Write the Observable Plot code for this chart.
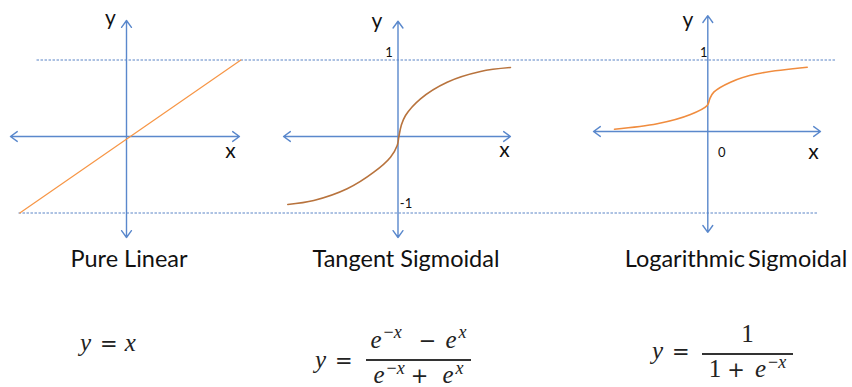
<!DOCTYPE html>
<html><head><meta charset="utf-8">
<script src="https://cdn.jsdelivr.net/npm/d3@7"></script>
<script src="https://cdn.jsdelivr.net/npm/@observablehq/plot@0.6"></script>
<style>
body{margin:0;background:#fff;}
#fig{position:relative;width:852px;height:387px;overflow:hidden;background:#fff;}
#fig svg{position:absolute;top:0;}
.title{position:absolute;top:247px;font-family:Lato,"Noto Sans",sans-serif;font-size:23.5px;line-height:23.5px;color:#111;transform:translateX(-50%);white-space:nowrap;}
.m{position:absolute;font-family:"Liberation Serif",serif;font-size:25px;line-height:25px;color:#222;white-space:nowrap;}
.m i{font-style:italic;}
.op{font-family:"DejaVu Sans",sans-serif;font-size:21px;}
.sup{font-size:0.72em;position:relative;top:-0.55em;margin-left:2px;}
.den .sup{top:-0.45em;}
.frac{text-align:center;}
.num{display:block;height:25px;}
.bar{display:block;height:1.5px;background:#333;margin:7px 0 3px;}
.den{display:block;height:22px;line-height:22px;}
</style></head><body><div id="fig"></div>
<script>
// ---- data ----
const titles = ["Pure Linear", "Tangent Sigmoidal", "Logarithmic Sigmoidal"];
// Pure linear: y = x
const linearX = [-0.97, 1.04];
const linearY = [-1, 1];
// Tangent sigmoidal
const tanhX = [-0.984, -0.752, -0.454, -0.216, -0.067, -0.007, 0.007, 0.029, 0.067, 0.201, 0.439, 0.737, 1.004];
const tanhY = [-0.889, -0.837, -0.684, -0.467, -0.271, -0.118, -0.009, 0.144, 0.275, 0.493, 0.710, 0.850, 0.902];
// Logarithmic sigmoidal
const logX = [-0.933, -0.506, -0.173, -0.006, 0.02, 0.06, 0.227, 0.494, 0.994];
const logY = [0.032, 0.108, 0.238, 0.364, 0.457, 0.55, 0.69, 0.807, 0.899];
// axis extents [xMin, xMax, yMin, yMax]
const axisLinear = [-1.055, 1.027, -1.32, 1.516];
const axisTanh = [-1.022, 1.004, -1.32, 1.507];
const axisLog = [-1.143, 1.127, -1.41, 1.62];
// guide lines (levels ±1, extents in the linear panel's x units)
const guideLevels = [1, -1];
const guideStart = [-0.818, -0.982];
const guideEnd = [6.445, 6.29];
const tanhTickLabels = ["1", "-1"];
const logTickLabels = ["1", "0"];

// ---- styles ----
const AXIS = "#5a88cc";
const FONT = "Lato, 'Noto Sans', sans-serif";
const fig = document.getElementById("fig");
const H = 240;

function axisRows(a) {
  return [
    {x1: 0, y1: 0, x2: a[1], y2: 0},
    {x1: 0, y1: 0, x2: a[0], y2: 0},
    {x1: 0, y1: 0, x2: 0, y2: a[3]},
    {x1: 0, y1: 0, x2: 0, y2: a[2]}
  ];
}
function axisMarks(a) {
  return Plot.arrow(axisRows(a), {x1: "x1", y1: "y1", x2: "x2", y2: "y2", stroke: AXIS, strokeWidth: 1.4, headLength: 9, headAngle: 72, bend: false});
}
function label(x, y, t, dx, dy, size) {
  return Plot.text([{x, y, t}], {x: "x", y: "y", text: "t", dx, dy, fontSize: size, fontFamily: FONT, fill: "#111", textAnchor: "middle", lineAnchor: "middle"});
}
function place(svg, left) {
  svg.style.left = left + "px";
  fig.appendChild(svg);
}
const common = {height: H, axis: null, style: "background: transparent; overflow: visible;"};

// background guides
place(Plot.plot({
  ...common, width: 852,
  x: {domain: [-1, 1], range: [16, 236]},
  y: {domain: [-1, 1], range: [212.5, 59.5]},
  marks: [
    Plot.link(guideLevels.map((v, i) => ({y: v, a: guideStart[i], b: guideEnd[i]})),
      {x1: "a", x2: "b", y1: "y", y2: "y", stroke: "#5a84c6", strokeWidth: 1, strokeDasharray: "2.5,1.5"})
  ]
}), 0);

// panel 1: pure linear
place(Plot.plot({
  ...common, width: 284,
  x: {domain: [-1, 1], range: [16, 236]},
  y: {domain: [-1, 1], range: [212.5, 59.5]},
  marks: [
    axisMarks(axisLinear),
    Plot.line(linearX.map((x, i) => ({x, y: linearY[i]})), {x: "x", y: "y", stroke: "#f79646", strokeWidth: 1.2}),
    label(0, axisLinear[3], "y", -16, -2, 21),
    label(axisLinear[1], 0, "x", -9, 15, 21)
  ]
}), 0);

// panel 2: tangent sigmoidal
place(Plot.plot({
  ...common, width: 284,
  x: {domain: [-1, 1], range: [1.5, 225.5]},
  y: {domain: [-1, 1], range: [212.5, 59.5]},
  marks: [
    axisMarks(axisTanh),
    Plot.line(tanhX.map((x, i) => ({x, y: tanhY[i]})), {x: "x", y: "y", stroke: "#b8733d", strokeWidth: 1.6, curve: "catmull-rom"}),
    label(0, axisTanh[3], "y", -21, 0, 21),
    label(axisTanh[1], 0, "x", -6, 14, 21),
    label(0, 1, tanhTickLabels[0], -9, -7, 13),
    label(0, -1, tanhTickLabels[1], 8, -9, 13)
  ]
}), 284);

// panel 3: logarithmic sigmoidal
place(Plot.plot({
  ...common, width: 284,
  x: {domain: [-1, 1], range: [39.3, 239.3]},
  y: {domain: [0, 1], range: [131, 59.5]},
  marks: [
    axisMarks(axisLog),
    Plot.line(logX.map((x, i) => ({x, y: logY[i]})), {x: "x", y: "y", stroke: "#f08c3e", strokeWidth: 1.6, curve: "catmull-rom"}),
    label(0, axisLog[3], "y", -20, 5, 21),
    label(axisLog[1], 0, "x", -7, 21, 21),
    label(0, 1, logTickLabels[0], -4, -7, 13),
    label(0, 0, logTickLabels[1], 14, 21, 13)
  ]
}), 568);

// titles
const titleCenters = [129, 406, 736];
titles.forEach((t, i) => {
  const d = document.createElement("div");
  d.className = "title";
  d.textContent = t;
  d.style.left = titleCenters[i] + "px";
  if (i === 2) d.style.wordSpacing = "-3px";
  fig.appendChild(d);
});

// formulas
function piece(html, cls, left, top, width) {
  const d = document.createElement("div");
  d.className = "m " + cls;
  d.innerHTML = html;
  d.style.left = left + "px";
  d.style.top = top + "px";
  if (width) d.style.width = width + "px";
  fig.appendChild(d);
}
const EQ = '<i>y</i><span class="op" style="margin-left:9px">=</span>';
piece('<i>y</i><span class="op" style="margin:0 7px 0 9px">=</span><i>x</i>', "", 80, 330);

piece(EQ, "", 315, 347);
piece('<span class="num"><i>e</i><span class="sup">&minus;<i>x</i></span><span class="op" style="margin:0 9px 0 17px">&minus;</span><i>e</i><span class="sup"><i>x</i></span></span>' +
  '<span class="bar"></span>' +
  '<span class="den"><i>e</i><span class="sup">&minus;<i>x</i></span><span class="op" style="margin:0 14px 0 6px">+</span><i>e</i><span class="sup"><i>x</i></span></span>',
  "frac", 366, 327, 105);

piece(EQ, "", 652, 338);
piece('<span class="num">1</span>' +
  '<span class="bar"></span>' +
  '<span class="den">1<span class="op" style="margin:0 10px 0 6px">+</span><i>e</i><span class="sup">&minus;<i>x</i></span></span>',
  "frac", 702, 321, 91);
</script>
</body></html>
